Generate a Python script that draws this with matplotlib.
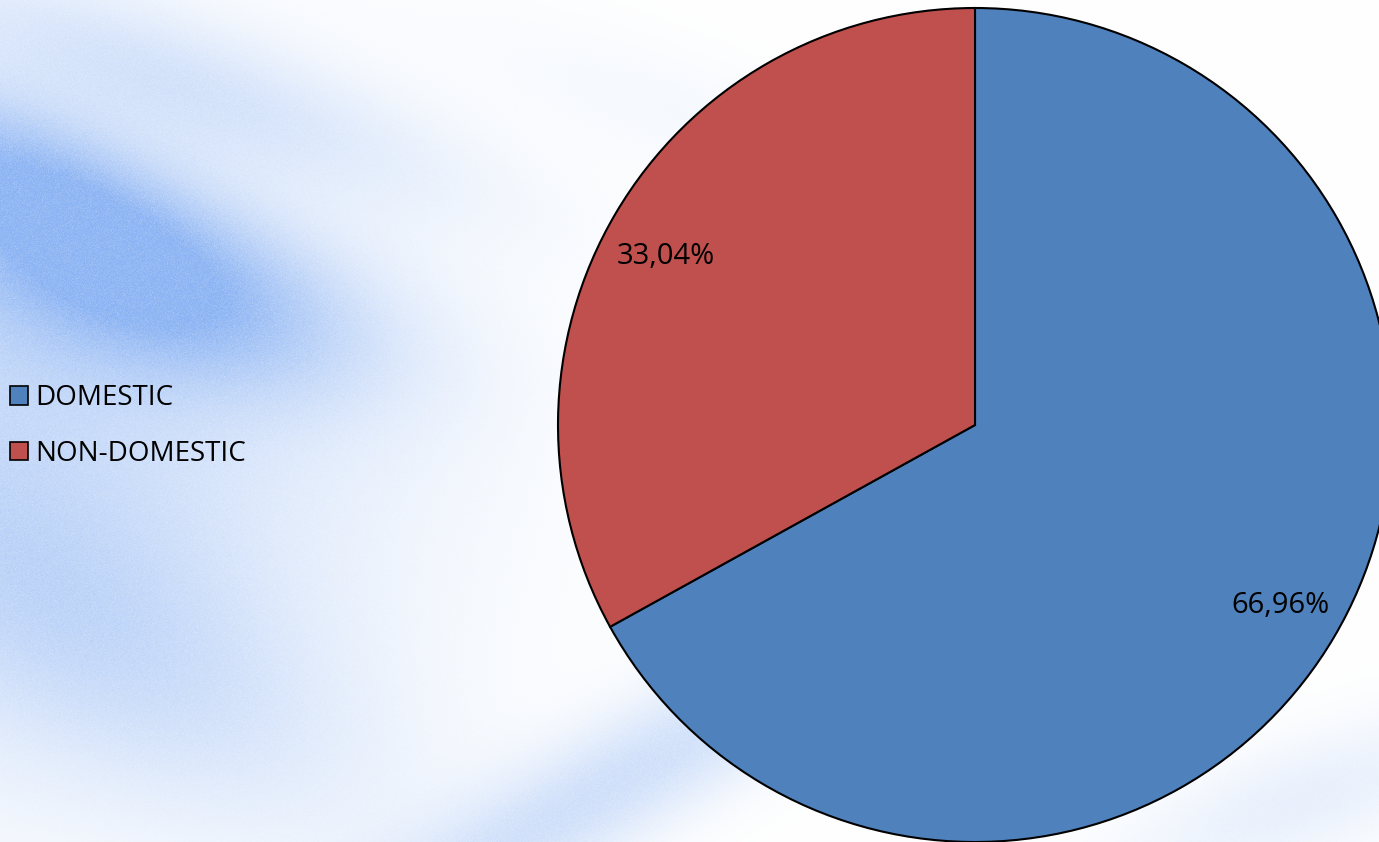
import numpy as np
import matplotlib
matplotlib.use("Agg")
import matplotlib.pyplot as plt
from matplotlib.patches import Patch

categories = ["DOMESTIC", "NON-DOMESTIC"]
values = [66.96, 33.04]
labels_pct = ["66,96%", "33,04%"]
colors = ["#4F81BD", "#C0504D"]

W, H = 1379, 842
fig = plt.figure(figsize=(W / 100, H / 100), dpi=100)

# decorative soft background
bg = fig.add_axes([0, 0, 1, 1])
yy, xx = np.mgrid[0:H, 0:W].astype(float)
def blob(cx, cy, sx, sy, ang, amp):
    a = np.deg2rad(ang)
    u = (xx - cx) * np.cos(a) + (yy - cy) * np.sin(a)
    v = -(xx - cx) * np.sin(a) + (yy - cy) * np.cos(a)
    return amp * np.exp(-(u / sx) ** 2 - (v / sy) ** 2)
k = (blob(0, 420, 380, 330, 20, 0.35)
     + blob(20, 175, 200, 70, 25, 0.45) + blob(150, 290, 220, 85, 15, 0.5)
     + blob(180, 80, 300, 60, 20, 0.2)
     + blob(120, 650, 300, 120, 30, 0.2)
     + blob(620, 780, 380, 60, -30, 0.3) + blob(1300, 800, 200, 60, -20, 0.15)
     + blob(700, 120, 250, 60, 20, 0.06))
k = np.clip(k, 0, 0.75)
rng = np.random.default_rng(1)
k = np.clip(k * (1 + 0.06 * rng.standard_normal(k.shape)), 0, 0.8)
blue = np.array([110, 160, 240]) / 255.0
img = (1 - k[..., None]) * 1.0 + k[..., None] * blue
bg.imshow(img, extent=[0, W, H, 0], aspect="auto")
bg.set_axis_off()

ax = fig.add_axes([558 / W, 0 / H, 834 / W, 834 / H])
wedges, texts = ax.pie(values, colors=colors, startangle=90, counterclock=False,
                       radius=1.0, labels=labels_pct, labeldistance=0.85,
                       wedgeprops=dict(edgecolor="black", linewidth=1.5),
                       textprops=dict(fontsize=21, family="Open Sans", color="black",
                                      ha="center", va="center"))
for t in texts:
    t.set_ha("center")
# nudge the small-slice label slightly lower, as in the reference
x, y = texts[1].get_position()
texts[1].set_position((x - 0.01, y - 0.028))
ax.set_xlim(-1, 1)
ax.set_ylim(-1, 1)
ax.set_aspect("equal")
ax.set_axis_off()
for w in wedges:
    w.set_clip_on(False)

handles = [Patch(facecolor=c, edgecolor="black", linewidth=1.2) for c in colors]
fig.legend(handles, categories, loc="center left", bbox_to_anchor=(10 / W, 1 - 426 / H),
           frameon=False, prop=dict(family="Open Sans", size=20),
           handlelength=0.65, handleheight=0.65, handletextpad=0.25,
           labelspacing=1.0, borderpad=0, borderaxespad=0)

fig.savefig("out.png", dpi=100)
